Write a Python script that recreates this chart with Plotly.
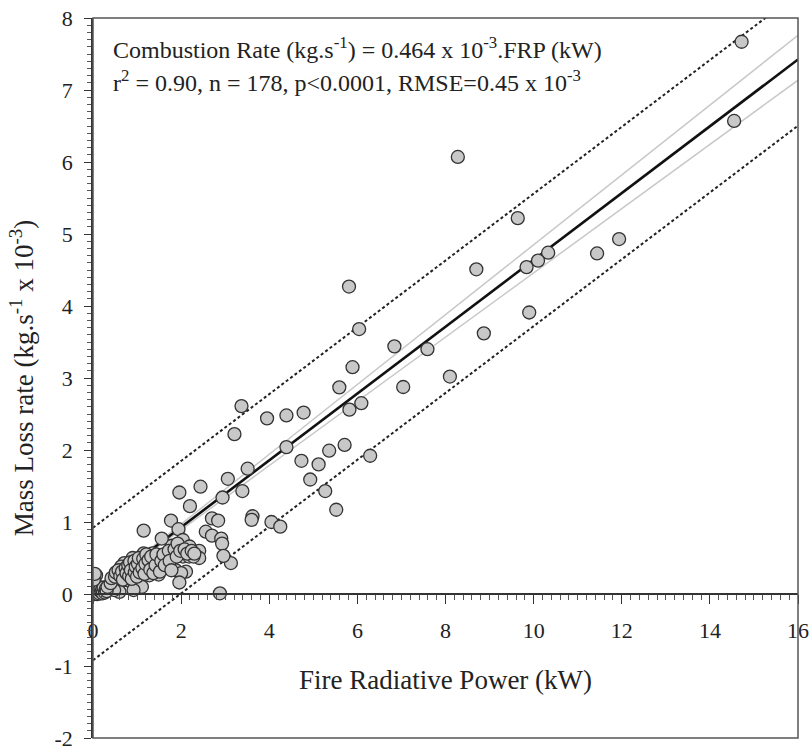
import plotly.graph_objects as go

# Fire Radiative Power (kW) and Mass Loss rate (kg/s x 1e-3)
frp = [
    14.72, 14.55, 11.94, 11.44, 8.28, 9.64, 8.70, 10.33, 10.10, 9.84,
    9.90, 8.87, 8.10, 5.81, 6.04, 6.84, 7.59, 5.89, 5.59, 7.04,
    5.82, 6.09, 3.95, 4.39, 4.78, 4.39, 5.71, 5.36, 4.73, 5.12,
    6.29, 4.93, 5.27, 5.52, 4.05, 4.25, 3.21, 3.51, 3.06, 2.44,
    1.96, 3.39, 2.94, 2.20, 2.70, 2.84, 1.77, 3.62, 3.60, 1.15,
    1.94, 2.56, 2.70, 2.91, 2.93, 3.13, 2.96, 2.88, 3.37,
    # dense cluster
    1.79, 2.04, 2.19, 1.66, 1.82, 2.04, 2.18, 2.41, 2.41, 1.15,
    1.35, 0.90, 0.71, 0.64, 1.09, 1.39, 1.24, 1.47, 1.69, 1.88,
    2.11, 2.00, 1.96, 1.49, 1.28, 1.09, 0.90, 0.71, 0.56, 0.45,
    0.60, 0.79, 0.98, 1.11, 0.92, 0.37, 0.60, 0.48, 0.26, 0.18,
    0.00, 0.07, 0.00, 0.07, 1.56, 2.28,
    0.01, 0.02, 0.03, 0.04, 0.05, 0.06, 0.08, 0.09, 0.10, 0.11,
    0.12, 0.13, 0.14, 0.15, 0.17, 0.19, 0.21, 0.22, 0.24, 0.27,
    0.29, 0.31, 0.33, 0.02, 0.04,
    0.40, 0.42, 0.50, 0.52, 0.58, 0.62, 0.66, 0.68, 0.74, 0.76,
    0.80, 0.82, 0.84, 0.86, 0.88, 0.94, 0.95, 0.97, 1.00, 1.02,
    1.04, 1.06, 1.12, 1.14, 1.17, 1.19, 1.21, 1.26, 1.30, 1.32,
    1.37, 1.42, 1.44, 1.52, 1.55, 1.60, 1.63, 1.72, 1.74, 1.78,
    1.85, 1.90, 1.92, 1.98, 2.08, 2.14, 2.24, 2.30,
]
mass_loss = [
    7.67, 6.57, 4.93, 4.73, 6.07, 5.22, 4.51, 4.74, 4.63, 4.54,
    3.91, 3.62, 3.02, 4.27, 3.68, 3.44, 3.40, 3.15, 2.87, 2.875,
    2.56, 2.65, 2.44, 2.48, 2.52, 2.04, 2.07, 1.99, 1.85, 1.80,
    1.92, 1.59, 1.43, 1.17, 1.00, 0.935, 2.22, 1.74, 1.60, 1.49,
    1.41, 1.43, 1.34, 1.22, 1.05, 1.02, 1.02, 1.08, 1.03, 0.88,
    0.90, 0.865, 0.81, 0.77, 0.70, 0.43, 0.53, 0.01, 2.61,
    # dense cluster
    0.67, 0.75, 0.66, 0.52, 0.58, 0.52, 0.52, 0.60, 0.50, 0.565,
    0.565, 0.50, 0.43, 0.38, 0.45, 0.47, 0.38, 0.36, 0.36, 0.33,
    0.31, 0.29, 0.16, 0.27, 0.26, 0.26, 0.27, 0.27, 0.27, 0.19,
    0.17, 0.19, 0.17, 0.10, 0.055, 0.08, 0.03, 0.055, 0.055, 0.01,
    0.24, 0.26, 0.055, 0.01, 0.77, 0.52,
    0.02, 0.04, 0.00, 0.06, 0.03, 0.08, 0.02, 0.05, 0.00, 0.07,
    0.03, 0.10, 0.01, 0.05, 0.08, 0.03, 0.06, 0.01, 0.09, 0.02,
    0.07, 0.04, 0.10, 0.20, 0.28,
    0.15, 0.22, 0.24, 0.30, 0.33, 0.25, 0.31, 0.20, 0.36, 0.29,
    0.40, 0.25, 0.44, 0.33, 0.21, 0.46, 0.30, 0.38, 0.24, 0.42,
    0.50, 0.30, 0.36, 0.49, 0.28, 0.42, 0.55, 0.47, 0.34, 0.52,
    0.29, 0.40, 0.55, 0.31, 0.46, 0.55, 0.40, 0.60, 0.46, 0.33,
    0.62, 0.52, 0.70, 0.60, 0.62, 0.56, 0.60, 0.56,
]

# Regression results
fit_slope = 0.464
ci_upper_slope = 0.485
ci_lower_slope = 0.446
pred_offset = 0.92
fit_x = [0, 16]

x_ticks = [0, 2, 4, 6, 8, 10, 12, 14, 16]
y_ticks = [-2, -1, 0, 1, 2, 3, 4, 5, 6, 7, 8]
y_tick_labels = ["-2", "-1", "0", "1", "2", "3", "4", "5", "6", "7", "8"]

FONT = "Liberation Serif"

fig = go.Figure()

# confidence interval lines
for s in (ci_upper_slope, ci_lower_slope):
    fig.add_trace(go.Scatter(
        x=fit_x, y=[s * v for v in fit_x], mode="lines",
        line=dict(color="#c8c8c8", width=1.5), hoverinfo="skip"))

# prediction interval lines
for off in (pred_offset, -pred_offset):
    fig.add_trace(go.Scatter(
        x=fit_x, y=[fit_slope * v + off for v in fit_x], mode="lines",
        line=dict(color="#222222", width=2, dash="3px,2.5px"), hoverinfo="skip"))

# regression line
fig.add_trace(go.Scatter(
    x=fit_x, y=[fit_slope * v for v in fit_x], mode="lines",
    line=dict(color="#111111", width=2.6), hoverinfo="skip"))

# data points
fig.add_trace(go.Scatter(
    x=frp, y=mass_loss, mode="markers",
    marker=dict(size=13, color="#c8c8c8", line=dict(color="#333333", width=1.3))))

fig.update_layout(
    width=809, height=751,
    margin=dict(l=93, r=11, t=18, b=13),
    paper_bgcolor="white", plot_bgcolor="white",
    showlegend=False,
    font=dict(family=FONT, color="#222222"),
    xaxis=dict(
        range=[0, 16], anchor="free", position=0.2, automargin=False,
        ticklabeloverflow="allow",
        tickvals=x_ticks, ticks="outside", ticklen=9, tickwidth=1.2, tickcolor="#333",
        minor=dict(dtick=0.2, tick0=0, ticks="outside", ticklen=5, tickwidth=1, tickcolor="#555"),
        showline=True, linecolor="#333", linewidth=1.5,
        showgrid=False, zeroline=False,
        tickfont=dict(family=FONT, size=22, color="#222"),
        ticklabelstandoff=8,
        title=dict(text="Fire Radiative Power (kW)", font=dict(family=FONT, size=27, color="#222"), standoff=27),
    ),
    yaxis=dict(
        range=[-2, 8], automargin=False,
        ticklabeloverflow="allow",
        tickvals=y_ticks, ticktext=y_tick_labels,
        ticks="outside", ticklen=7, tickwidth=1.2, tickcolor="#333",
        minor=dict(dtick=0.1, tick0=0, ticks="outside", ticklen=4, tickwidth=1, tickcolor="#555"),
        showline=True, linecolor="#333", linewidth=1.5,
        showgrid=False, zeroline=False,
        tickfont=dict(family=FONT, size=22, color="#222"),
        ticklabelstandoff=7,
        title=dict(text="Mass Loss rate (kg.s<sup>-1</sup> x 10<sup>-3</sup>)",
                   font=dict(family=FONT, size=27, color="#222"), standoff=13),
    ),
)

# plot frame
fig.add_shape(type="rect", xref="paper", yref="paper", x0=0, x1=1, y0=0, y1=1,
              line=dict(color="#555555", width=1.5), layer="above")

fig.add_annotation(
    xref="paper", yref="paper", x=0.025, y=0.958, xanchor="left", yanchor="middle",
    showarrow=False, align="left",
    text="Combustion Rate (kg.s<sup>-1</sup>) = 0.464 x 10<sup>-3</sup>.FRP (kW)",
    font=dict(family=FONT, size=24, color="#222"))
fig.add_annotation(
    xref="paper", yref="paper", x=0.025, y=0.913, xanchor="left", yanchor="middle",
    showarrow=False, align="left",
    text="r<sup>2</sup> = 0.90, n = 178, p&lt;0.0001, RMSE=0.45 x 10<sup>-3</sup>",
    font=dict(family=FONT, size=24, color="#222"))

# remove the default 8px page margin so the figure fills the window exactly
fig.write_html("out.html",
               config={"displayModeBar": False},
               post_script="document.body.style.margin='0';document.body.style.overflow='hidden';")
